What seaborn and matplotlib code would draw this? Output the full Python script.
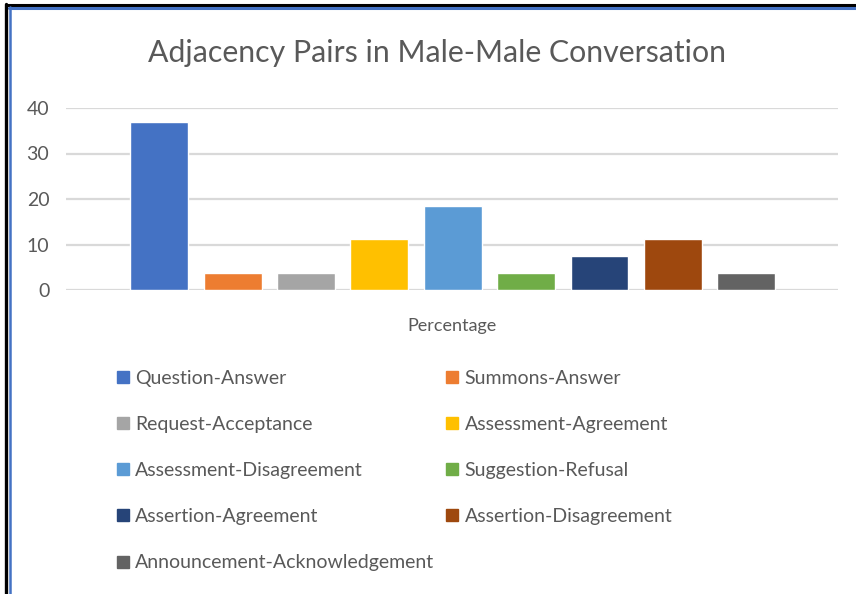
import pandas as pd
import seaborn as sns
import matplotlib.pyplot as plt
from matplotlib.lines import Line2D

pairs = [
    "Question-Answer",
    "Summons-Answer",
    "Request-Acceptance",
    "Assessment-Agreement",
    "Assessment-Disagreement",
    "Suggestion-Refusal",
    "Assertion-Agreement",
    "Assertion-Disagreement",
    "Announcement-Acknowledgement",
]
percent = [37.0, 3.7, 3.7, 11.1, 18.5, 3.7, 7.4, 11.1, 3.7]
colors = ["#4472C4", "#ED7D31", "#A5A5A5", "#FFC000", "#5B9BD5",
          "#70AD47", "#264478", "#9E480E", "#636363"]
yticks = [0, 10, 20, 30, 40]

df = pd.DataFrame({"pair": pairs, "percent": percent})

sns.set_style("white")
plt.rcParams["font.family"] = ["Lato", "DejaVu Sans"]
TEXT = "#595959"

fig = plt.figure(figsize=(8.56, 5.94), dpi=100)
ax = fig.add_axes([66 / 856, 1 - 290 / 594, 772 / 856, 182 / 594])

sns.barplot(data=df, x="pair", y="percent", hue="pair", palette=colors,
            width=0.79, legend=False, ax=ax, saturation=1)

ax.set_ylim(0, 40)
ax.set_xlim(-1.27, 9.25)
ax.set_yticks(yticks)
ax.yaxis.grid(True, color="#D9D9D9", linewidth=1.6)
ax.set_axisbelow(True)
for s in ax.spines.values():
    s.set_visible(False)
ax.set_xticks([])
ax.tick_params(axis="y", length=0, labelsize=14, labelcolor=TEXT, pad=12)
ax.set_ylabel("")
ax.set_xlabel("Percentage", fontsize=13, color=TEXT, labelpad=20)

fig.text(437 / 856, 1 - 53 / 594, "Adjacency Pairs in Male-Male Conversation",
         ha="center", va="center", fontsize=21.8, color=TEXT)

handles = [Line2D([], [], marker="s", linestyle="none", markersize=8,
                  markerfacecolor=c, markeredgecolor=c) for c in colors]
order = [0, 2, 4, 6, 8, 1, 3, 5, 7]
fig.legend([handles[i] for i in order], [pairs[i] for i in order],
           ncol=2, loc="upper left", bbox_to_anchor=(108 / 856, 1 - 362 / 594),
           frameon=False, fontsize=14, labelcolor=TEXT,
           handlelength=0.7, handletextpad=0.3, columnspacing=0.55,
           labelspacing=1.5, borderaxespad=0)

# frame lines along top and left edges
fig.add_artist(Line2D([6 / 856, 1], [1 - 5 / 594] * 2, color="black", lw=2.2,
                      transform=fig.transFigure))
fig.add_artist(Line2D([9 / 856, 1], [1 - 8 / 594] * 2, color="#4472C4", lw=2.2,
                      transform=fig.transFigure))
fig.add_artist(Line2D([6 / 856] * 2, [0, 1 - 4 / 594], color="black", lw=2.4,
                      transform=fig.transFigure))
fig.add_artist(Line2D([10 / 856] * 2, [0, 1 - 7 / 594], color="#4472C4", lw=1.8,
                      transform=fig.transFigure))

fig.savefig("out.png", dpi=100)
